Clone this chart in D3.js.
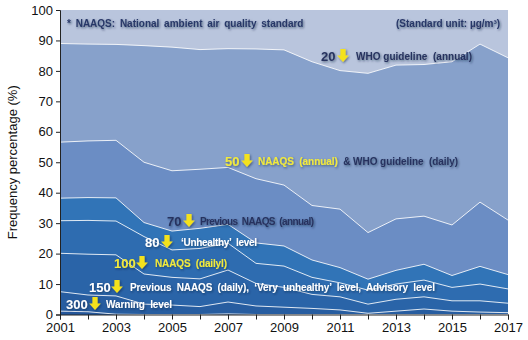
<!DOCTYPE html>
<html>
<head>
<meta charset="utf-8">
<script src="https://cdn.jsdelivr.net/npm/d3@7/dist/d3.min.js"></script>
<style>
  body { margin: 0; background: #fff; }
  svg { display: block; font-family: "Liberation Sans", Arial, sans-serif; }
</style>
</head>
<body>
<svg id="chart" width="528" height="340"></svg>
<script>
// share of days above each PM threshold, per year (%)
var years = [2001, 2002, 2003, 2004, 2005, 2006, 2007, 2008, 2009, 2010, 2011, 2012, 2013, 2014, 2015, 2016, 2017];
var over20  = [89.0, 88.8, 88.7, 88.3, 87.8, 87.0, 87.3, 87.2, 86.9, 83.0, 80.1, 79.2, 81.9, 82.1, 83.0, 88.8, 84.3];
var over50  = [56.6, 57.0, 57.2, 50.0, 47.2, 47.7, 48.3, 44.6, 42.5, 35.8, 34.6, 26.9, 31.4, 32.3, 29.4, 36.9, 31.0];
var over70  = [38.2, 38.4, 38.3, 30.2, 27.4, 28.3, 29.6, 23.5, 22.5, 17.9, 15.4, 11.6, 14.5, 16.5, 12.8, 15.8, 13.1];
var over80  = [30.8, 30.9, 30.7, 25.6, 21.2, 21.7, 23.4, 16.8, 15.9, 12.2, 10.4, 8.0, 10.0, 11.3, 8.9, 10.0, 8.4];
var over100 = [20.1, 19.8, 19.6, 13.3, 12.2, 11.7, 14.6, 10.2, 8.9, 6.6, 5.8, 3.4, 5.0, 5.8, 4.5, 4.5, 3.7];
var over150 = [7.5, 6.4, 6.1, 3.4, 3.1, 2.6, 4.1, 2.8, 2.4, 2.0, 1.5, 0.4, 1.1, 1.8, 1.1, 0.8, 0.6];
var over300 = [1.1, 0.9, 0.1, 0, 0, 0, 0.2, 0, 0, 0, 0, 0, 0, 0, 0, 0, 0];
var yTicks = [0, 10, 20, 30, 40, 50, 60, 70, 80, 90, 100];
var xTickLabels = [2001, 2003, 2005, 2007, 2009, 2011, 2013, 2015, 2017];

var series = [over20, over50, over70, over80, over100, over150, over300];
var fills = ["#87a1cb", "#6b8dc4", "#3174b7", "#2e6cb0", "#2a64a8", "#275da0", "#24569a"];

var svg = d3.select("#chart");
var mLeft = 60, mRight = 508, mTop = 10, mBottom = 314.5;

var x = d3.scaleLinear().domain([2001, 2017]).range([mLeft, mRight]);
var y = d3.scaleLinear().domain([0, 100]).range([mBottom, mTop]);

var defs = svg.append("defs");
var sh = defs.append("filter").attr("id", "shadow")
  .attr("x", "-10%").attr("y", "-30%").attr("width", "130%").attr("height", "170%");
sh.append("feDropShadow").attr("dx", 1).attr("dy", 1.2).attr("stdDeviation", 0.9)
  .attr("flood-color", "#0b1a3a").attr("flood-opacity", 0.55);

// background band: everything above the 20 line
svg.append("rect")
  .attr("x", mLeft).attr("y", mTop)
  .attr("width", mRight - mLeft).attr("height", mBottom - mTop)
  .attr("fill", "#b9c5dd");

var area = d3.area()
  .x(function(d, i) { return x(years[i]); })
  .y0(y(0))
  .y1(function(d) { return y(d); });

var line = d3.line()
  .x(function(d, i) { return x(years[i]); })
  .y(function(d) { return y(d); });

series.forEach(function(s, k) {
  svg.append("path").datum(s)
    .attr("d", area)
    .attr("fill", fills[k]);
});

series.forEach(function(s) {
  svg.append("path").datum(s)
    .attr("d", line)
    .attr("fill", "none")
    .attr("stroke", "#fff")
    .attr("stroke-opacity", 0.85)
    .attr("stroke-width", 1);
});

// axes
var yAxis = d3.axisLeft(y).tickValues(yTicks).tickSize(4).tickPadding(3);
var gy = svg.append("g").attr("transform", "translate(" + mLeft + ",0)").call(yAxis);
gy.selectAll("text").attr("font-size", 13).attr("fill", "#111").attr("font-family", "Liberation Sans, Arial, sans-serif");

var xAxis = d3.axisBottom(x).tickValues(years).tickSize(5).tickPadding(3)
  .tickFormat(function(d) { return xTickLabels.indexOf(d) >= 0 ? d : ""; });
var gx = svg.append("g").attr("transform", "translate(0," + mBottom + ")").call(xAxis);
gx.selectAll("text").attr("font-size", 13).attr("fill", "#111").attr("font-family", "Liberation Sans, Arial, sans-serif");
svg.selectAll(".domain").attr("stroke", "#222");
svg.selectAll(".tick line").attr("stroke", "#222");

svg.append("text")
  .attr("transform", "translate(17," + ((mTop + mBottom) / 2) + ") rotate(-90)")
  .attr("text-anchor", "middle")
  .attr("font-size", 13)
  .attr("fill", "#111")
  .text("Frequency percentage (%)");

// notes along the top
svg.append("text").attr("x", 67).attr("y", 26.5)
  .attr("font-size", 10).attr("font-weight", "bold").attr("fill", "#283868")
  .attr("filter", "url(#shadow)").attr("word-spacing", 2)
  .text("* NAAQS:  National ambient air quality standard");
svg.append("text").attr("x", 396).attr("y", 26.5)
  .attr("font-size", 10).attr("font-weight", "bold").attr("fill", "#283868")
  .attr("filter", "url(#shadow)")
  .text("(Standard unit: \u00b5g/m\u00b3)");

var navy = "#27335f", yellow = "#f2ea3a", white = "#ffffff";

// threshold labels: value, arrow, caption
var notes = [
  { v: "20", nx: 321, ax: 343, cy: 56, nc: navy, parts: [["WHO guideline  (annual)", navy]], tx: 356, tw: 116 },
  { v: "50", nx: 225, ax: 247, cy: 161, nc: yellow, parts: [["NAAQS  (annual)", yellow], ["  & WHO guideline  (daily)", navy]], tx: 258, tw: 200 },
  { v: "70", nx: 167, ax: 189, cy: 221, nc: navy, parts: [["Previous  NAAQS  (annual)", navy]], tx: 200, tw: 114 },
  { v: "80", nx: 145, ax: 167, cy: 242, nc: white, parts: [["\u2018Unhealthy\u2019  level", white]], tx: 181, tw: 76 },
  { v: "100", nx: 114, ax: 142, cy: 263, nc: yellow, parts: [["NAAQS  (dailyl)", yellow]], tx: 155, tw: 72 },
  { v: "150", nx: 89, ax: 117, cy: 287, nc: white, parts: [["Previous  NAAQS  (daily),  \u2018Very  unhealthy\u2019  level,  Advisory  level", white]], tx: 130, tw: 305 },
  { v: "300", nx: 66, ax: 95, cy: 304, nc: white, parts: [["Warning  level", white]], tx: 106, tw: 66 }
];

notes.forEach(function(n) {
  var g = svg.append("g").attr("filter", "url(#shadow)");
  g.append("text").attr("x", n.nx).attr("y", n.cy + 4.6)
    .attr("font-size", 13).attr("font-weight", "bold").attr("fill", n.nc)
    .text(n.v);
  // block arrow pointing down
  var ax = n.ax, t = n.cy - 7;
  g.append("path")
    .attr("d", "M" + (ax - 2.6) + "," + t + "h5.2v6.5h3.2l-5.8,6.5l-5.8,-6.5h3.2z")
    .attr("fill", "#f4e21c");
  var txt = g.append("text").attr("x", n.tx).attr("y", n.cy + 3.6)
    .attr("font-size", 10).attr("font-weight", "bold")
    .attr("textLength", n.tw).attr("lengthAdjust", "spacing")
    .style("white-space", "pre");
  n.parts.forEach(function(p) {
    txt.append("tspan").attr("fill", p[1]).text(p[0]);
  });
});
</script>
</body>
</html>
